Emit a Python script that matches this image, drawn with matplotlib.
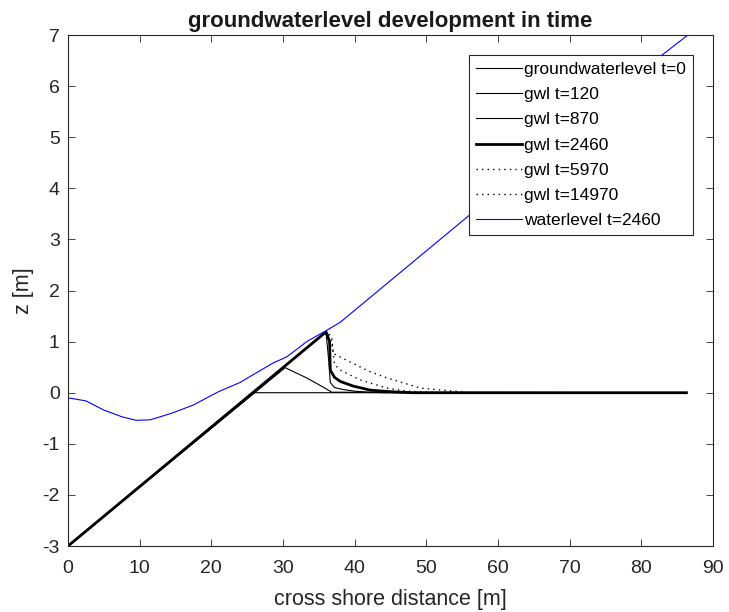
import numpy as np
import matplotlib
matplotlib.use("Agg")
import matplotlib.pyplot as plt

plt.rcParams['font.family'] = ['Liberation Sans', 'DejaVu Sans']
plt.rcParams['axes.unicode_minus'] = False

x_end = 86.3

# groundwater level at t=0: follows slope up to z=0, then flat
gwl0_x = [0.0, 26.0, x_end]
gwl0_z = [-3.0, 0.0, 0.0]

gwl120_x = [0.0, 30.3, 33.3, 35.6, 36.8, x_end]
gwl120_z = [-3.0, 0.49, 0.29, 0.11, 0.01, 0.0]

gwl870_x = [0.0, 36.0, 36.4, 36.6, 37.2, 38.5, 40.0, 42.0, 44.0, x_end]
gwl870_z = [-3.0, 1.19, 0.6, 0.2, 0.1, 0.06, 0.03, 0.01, 0.0, 0.0]

gwl2460_x = [0.0, 36.0, 36.5, 36.6, 37.2, 38.0, 39.8, 42.2, 45.0, 48.0, x_end]
gwl2460_z = [-3.0, 1.19, 1.0, 0.44, 0.30, 0.22, 0.13, 0.05, 0.02, 0.0, 0.0]

gwl5970_x = [0.0, 36.0, 36.8, 37.2, 38.0, 40.8, 44.5, 47.3, 50.0, 52.0, x_end]
gwl5970_z = [-3.0, 1.19, 1.0, 0.55, 0.44, 0.25, 0.09, 0.03, 0.01, 0.0, 0.0]

gwl14970_x = [0.0, 36.0, 36.8, 37.0, 39.4, 42.0, 44.5, 49.2, 53.8, 56.0, x_end]
gwl14970_z = [-3.0, 1.19, 1.1, 0.77, 0.60, 0.42, 0.29, 0.09, 0.03, 0.0, 0.0]

wl_x = [0.0, 2.5, 5.0, 7.5, 9.5, 11.5, 14.5, 17.5, 21.0, 24.0, 25.8, 28.6,
        30.5, 32.4, 33.3, 35.2, 36.1, 38.0, 55.2, 70.0, 83.1, 86.5]
wl_z = [-0.1, -0.16, -0.34, -0.47, -0.54, -0.53, -0.4, -0.24, 0.02, 0.2, 0.35, 0.58,
        0.70, 0.90, 1.0, 1.15, 1.22, 1.38, 3.38, 5.1, 6.63, 7.0]

dots = (0, (1, 3))  # sparse matlab-like ':'

fig = plt.figure(figsize=(7.29, 6.12), dpi=100)
ax = fig.add_axes([0.0933, 0.1078, 0.8847, 0.835])

ax.plot(gwl0_x, gwl0_z, 'k-', lw=0.8, label='groundwaterlevel t=0')
ax.plot(gwl120_x, gwl120_z, 'k-', lw=0.8, label='gwl t=120')
ax.plot(gwl870_x, gwl870_z, 'k-', lw=0.8, label='gwl t=870')
ax.plot(gwl2460_x, gwl2460_z, 'k-', lw=2.0, label='gwl t=2460')
ax.plot(gwl5970_x, gwl5970_z, color='k', ls=dots, lw=1.0, label='gwl t=5970')
ax.plot(gwl14970_x, gwl14970_z, color='k', ls=dots, lw=1.0, label='gwl t=14970')
ax.plot(wl_x, wl_z, '-', color='#0000ff', lw=0.8, label='waterlevel t=2460')

ax.set_xlim(0, 90)
ax.set_ylim(-3, 7)
ax.set_xticks(np.arange(0, 91, 10))
ax.set_yticks(np.arange(-3, 8, 1))
ax.tick_params(direction='in', top=True, right=True, labelsize=14, length=5, width=0.6,
               colors='#262626')
ax.tick_params(axis='x', pad=10)
ax.tick_params(axis='y', pad=6)
for s in ax.spines.values():
    s.set_linewidth(0.8)
    s.set_color('#262626')

ax.set_xlabel('cross shore distance [m]', fontsize=15.5, color='#262626', labelpad=9)
ax.set_ylabel('z [m]', fontsize=15.5, color='#262626', labelpad=6)
ax.set_title('groundwaterlevel development in time', fontsize=16, fontweight='bold',
             color='#1a1a1a', pad=6)

leg = ax.legend(loc='upper right', bbox_to_anchor=(0.969, 0.961), fontsize=12.5,
                handlelength=2.6, labelspacing=0.58, handletextpad=0.15,
                borderpad=0.4, borderaxespad=0, fancybox=False, framealpha=1,
                edgecolor='#262626')
leg.get_frame().set_linewidth(0.8)

fig.savefig('out.png', dpi=100)
